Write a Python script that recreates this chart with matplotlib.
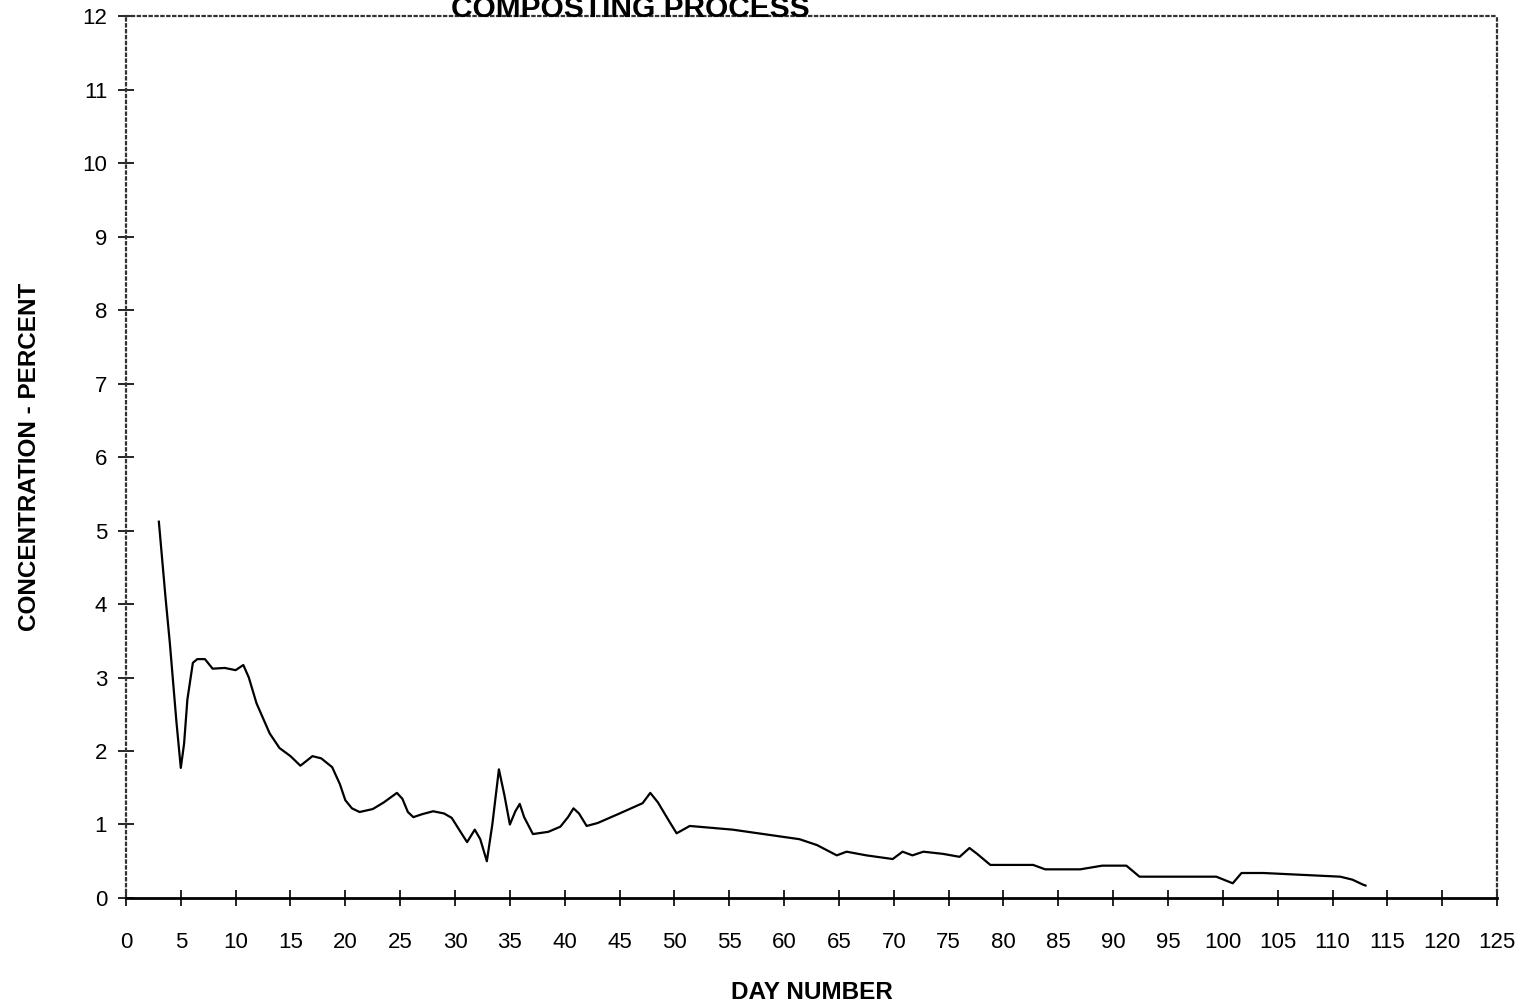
import matplotlib
matplotlib.use("Agg")
import matplotlib.pyplot as plt

plt.rcParams['font.family'] = ['Liberation Sans', 'DejaVu Sans']

# readings
days = [3.0, 3.6, 4.0, 4.6, 5.0, 5.3, 5.6, 6.1, 6.5, 7.2, 7.9, 9.0, 10.0,
        10.7, 11.2, 11.9, 13.1, 14.0, 15.0, 15.9, 16.5, 17.0, 17.8, 18.8,
        19.5, 20.0, 20.6, 21.3, 22.5, 23.5, 24.7, 25.2, 25.7, 26.2, 27.0,
        28.0, 29.0, 29.7, 30.5, 31.1, 31.8, 32.3, 32.9, 33.4, 34.0, 34.5,
        35.0, 35.5, 35.9, 36.3, 37.1, 38.5, 39.6, 40.3, 40.8, 41.3, 42.0,
        43.0, 45.0, 47.1, 47.8, 48.5, 49.5, 50.2, 51.4, 55.3, 61.4, 63.0,
        64.8, 65.7, 67.5, 69.9, 70.8, 71.7, 72.7, 74.5, 76.0, 76.9, 77.6,
        78.8, 82.7, 83.8, 87.0, 89.0, 91.2, 92.4, 99.4, 100.9, 101.7, 103.7,
        110.7, 111.8, 112.8, 113.0]
conc = [5.12, 4.1, 3.47, 2.4, 1.77, 2.1, 2.7, 3.2, 3.25, 3.25, 3.12, 3.13,
        3.10, 3.17, 3.0, 2.65, 2.24, 2.04, 1.93, 1.8, 1.87, 1.93, 1.9, 1.78,
        1.55, 1.33, 1.22, 1.17, 1.21, 1.3, 1.43, 1.35, 1.17, 1.1, 1.14, 1.18,
        1.15, 1.09, 0.9, 0.76, 0.93, 0.8, 0.5, 1.0, 1.75, 1.4, 1.0, 1.18,
        1.28, 1.1, 0.87, 0.9, 0.97, 1.1, 1.22, 1.15, 0.98, 1.02, 1.15, 1.29,
        1.43, 1.3, 1.05, 0.88, 0.98, 0.93, 0.8, 0.72, 0.58, 0.63, 0.58, 0.53,
        0.63, 0.58, 0.63, 0.6, 0.56, 0.68, 0.6, 0.45, 0.45, 0.39, 0.39, 0.44,
        0.44, 0.29, 0.29, 0.2, 0.34, 0.34, 0.29, 0.25, 0.18, 0.17]

x_ticks = list(range(0, 126, 5))
y_ticks = list(range(0, 13))

fig = plt.figure(figsize=(15.23, 10.02), dpi=100)
ax = fig.add_axes([0.0827, 0.1038, 0.9003, 0.8802])

ax.plot(days, conc, color='black', linewidth=1.6)

ax.set_xlim(0, 125)
ax.set_ylim(0, 12)
ax.set_xticks(x_ticks)
ax.set_yticks(y_ticks)
ax.tick_params(axis='both', direction='inout', length=11, width=1.2,
               labelsize=16, colors='black')
ax.tick_params(axis='x', pad=19)
ax.tick_params(axis='y', pad=8)

for side in ['top', 'left', 'right']:
    ax.spines[side].set_linestyle(':')
    ax.spines[side].set_linewidth(1.6)
    ax.spines[side].set_color('#333333')
ax.spines['bottom'].set_linewidth(2)

ax.set_xlabel('DAY NUMBER', fontsize=17.5, fontweight='bold', labelpad=20)
ax.set_ylabel('CONCENTRATION - PERCENT', fontsize=17.5, fontweight='bold',
              labelpad=30)

fig.text(0.414, 1 - 17 / 1002, 'COMPOSTING PROCESS', fontsize=21.5,
         fontweight='bold', ha='center', va='baseline')

fig.savefig('out.png', dpi=100)
